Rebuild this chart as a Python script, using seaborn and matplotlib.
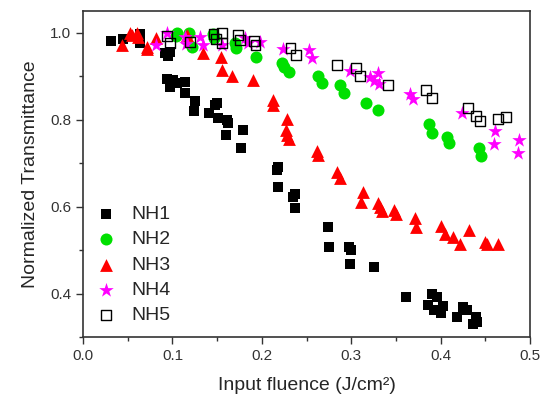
import numpy as np
import pandas as pd
import matplotlib
matplotlib.use("Agg")
import matplotlib.pyplot as plt
from matplotlib.ticker import MultipleLocator, FormatStrFormatter
import seaborn as sns

# --- data (input fluence J/cm^2, normalized transmittance) ---
nh1_x = [0.031, 0.045, 0.064, 0.064, 0.092, 0.097, 0.095, 0.094, 0.101, 0.097, 0.105, 0.114,
         0.114, 0.125, 0.124, 0.141, 0.148, 0.150, 0.151, 0.161, 0.162, 0.160, 0.179, 0.177,
         0.217, 0.218, 0.218, 0.237, 0.235, 0.237, 0.274, 0.275, 0.298, 0.300, 0.299, 0.326,
         0.361, 0.390, 0.396, 0.386, 0.403, 0.393, 0.400, 0.418, 0.425, 0.429, 0.440, 0.436, 0.441]
nh1_y = [0.981, 0.985, 0.997, 0.977, 0.953, 0.956, 0.946, 0.893, 0.891, 0.875, 0.884, 0.886,
         0.861, 0.843, 0.820, 0.815, 0.833, 0.838, 0.803, 0.799, 0.792, 0.764, 0.776, 0.735,
         0.684, 0.690, 0.644, 0.630, 0.623, 0.596, 0.553, 0.508, 0.508, 0.499, 0.469, 0.460,
         0.393, 0.400, 0.393, 0.374, 0.372, 0.361, 0.356, 0.347, 0.368, 0.363, 0.345, 0.331, 0.334]

nh2_x = [0.105, 0.104, 0.119, 0.122, 0.145, 0.147, 0.170, 0.171, 0.194, 0.223, 0.225, 0.230,
         0.263, 0.267, 0.287, 0.292, 0.317, 0.330, 0.387, 0.390, 0.407, 0.409, 0.443, 0.445]
nh2_y = [1.000, 0.992, 1.000, 0.967, 0.997, 0.988, 0.976, 0.965, 0.944, 0.930, 0.921, 0.909,
         0.900, 0.884, 0.879, 0.861, 0.838, 0.822, 0.789, 0.769, 0.760, 0.747, 0.734, 0.716]

nh3_x = [0.043, 0.053, 0.055, 0.060, 0.062, 0.072, 0.072, 0.082, 0.116, 0.134, 0.154, 0.155,
         0.167, 0.190, 0.213, 0.212, 0.228, 0.227, 0.228, 0.230, 0.262, 0.263, 0.284, 0.287,
         0.313, 0.311, 0.330, 0.332, 0.334, 0.348, 0.350, 0.371, 0.373, 0.400, 0.405, 0.414,
         0.422, 0.432, 0.450, 0.452, 0.464]
nh3_y = [0.972, 1.000, 0.995, 0.999, 0.990, 0.967, 0.962, 0.988, 0.995, 0.953, 0.944, 0.914,
         0.900, 0.891, 0.845, 0.834, 0.801, 0.776, 0.764, 0.755, 0.729, 0.718, 0.679, 0.665,
         0.633, 0.610, 0.608, 0.599, 0.589, 0.593, 0.584, 0.573, 0.553, 0.555, 0.536, 0.531,
         0.513, 0.547, 0.518, 0.513, 0.513]

nh4_x = [0.082, 0.094, 0.114, 0.115, 0.131, 0.134, 0.155, 0.181, 0.185, 0.198, 0.224, 0.253,
         0.256, 0.299, 0.321, 0.330, 0.326, 0.331, 0.366, 0.369, 0.424, 0.461, 0.460, 0.488, 0.487]
nh4_y = [0.972, 0.999, 0.991, 0.974, 0.990, 0.971, 0.971, 0.987, 0.977, 0.979, 0.963, 0.960,
         0.942, 0.912, 0.898, 0.907, 0.889, 0.882, 0.859, 0.847, 0.815, 0.774, 0.744, 0.753, 0.723]

nh5_x = [0.094, 0.097, 0.120, 0.146, 0.155, 0.155, 0.149, 0.173, 0.176, 0.191, 0.193, 0.232,
         0.238, 0.284, 0.305, 0.310, 0.341, 0.384, 0.390, 0.431, 0.440, 0.444, 0.464, 0.473]
nh5_y = [0.992, 0.976, 0.979, 0.997, 0.999, 0.976, 0.986, 0.995, 0.983, 0.981, 0.972, 0.965,
         0.949, 0.926, 0.919, 0.900, 0.880, 0.868, 0.850, 0.827, 0.809, 0.797, 0.801, 0.806]

series = [
    ("NH1", nh1_x, nh1_y, "s", "black", 58),
    ("NH2", nh2_x, nh2_y, "o", "#00e000", 75),
    ("NH3", nh3_x, nh3_y, "^", "red", 85),
    ("NH4", nh4_x, nh4_y, "*", "magenta", 120),
    ("NH5", nh5_x, nh5_y, "s", "none", 50),
]

sns.set_style("ticks")
plt.rcParams["font.family"] = ["Liberation Sans", "DejaVu Sans"]

fig, ax = plt.subplots(figsize=(5.43, 4.07), dpi=100)
fig.subplots_adjust(left=0.153, right=0.976, bottom=0.172, top=0.973)

for name, xs, ys, mk, col, size in series:
    df = pd.DataFrame({"x": xs, "y": ys})
    sns.scatterplot(data=df, x="x", y="y", marker=mk, s=size, ax=ax, label=name,
                    color="black" if col == "none" else col, linewidth=0 if col != "none" else 1.0)
    if col == "none":
        coll = ax.collections[-1]
        coll.set_facecolor("none")
        coll.set_edgecolor("black")
        coll.set_linewidth(1.0)

ax.set_xlim(0.0, 0.5)
ax.set_ylim(0.3, 1.05)
ax.xaxis.set_major_locator(MultipleLocator(0.1))
ax.xaxis.set_minor_locator(MultipleLocator(0.05))
ax.yaxis.set_major_locator(MultipleLocator(0.2))
ax.yaxis.set_minor_locator(MultipleLocator(0.1))
ax.xaxis.set_major_formatter(FormatStrFormatter("%.1f"))
ax.yaxis.set_major_formatter(FormatStrFormatter("%.1f"))
ax.tick_params(which="major", direction="out", length=5, width=1, labelsize=11, colors="#333333",
               labelcolor="#333333")
ax.tick_params(which="minor", direction="out", length=3, width=1, colors="#333333")

for sp in ax.spines.values():
    sp.set_linewidth(1.2)
    sp.set_color("#333333")

ax.set_xlabel("Input fluence (J/cm²)", fontsize=14, labelpad=10)
ax.set_ylabel("Normalized Transmittance", fontsize=14, labelpad=8)

ax.legend(loc="lower left", bbox_to_anchor=(-0.01, -0.015), frameon=False, fontsize=14,
          handletextpad=0.8, labelspacing=0.4, borderaxespad=0.5, handlelength=1.0)

plt.savefig("out.png", dpi=100)
plt.close()
